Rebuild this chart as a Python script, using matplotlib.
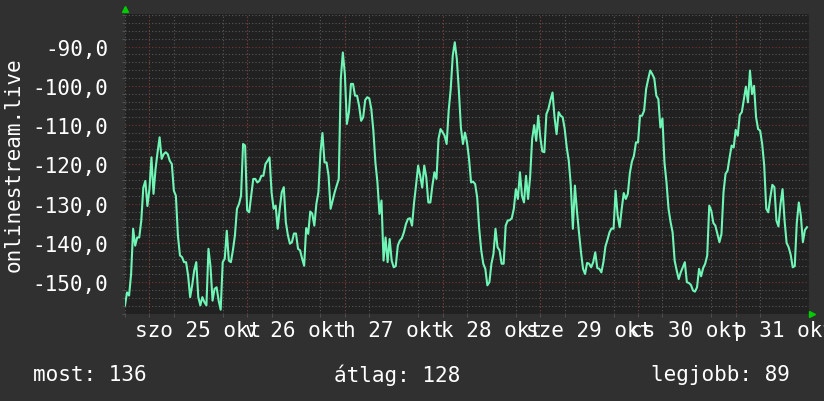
import matplotlib.pyplot as plt
import matplotlib.dates as mdates
from matplotlib.ticker import MultipleLocator, FuncFormatter
import pandas as pd

# Jelszint 30 percenként, 2025-10-24 18:00-tól (7 nap)
start = "2025-10-24 18:00"
signal = [
    # okt 24 18:00 - okt 25 17:30
    -155.9, -152.6, -153.4, -147.9, -136.4, -140.7, -138.6, -138.6, -134.3, -125.9,
    -124.2, -130.6, -126.3, -118.2, -127.5, -121.2, -116.9, -113.1, -118.6, -117.4,
    -116.9, -117.4, -119.1, -119.9, -126.7, -128.0, -138.2, -143.2, -143.6, -144.9,
    -144.9, -148.3, -153.8, -150.8, -147.0, -144.9, -153.8, -155.9, -153.8, -155.1,
    -155.9, -141.5, -146.0, -154.7, -151.7, -151.3, -154.7, -157.0,
    # okt 25 18:00 -
    -144.9, -144.0, -136.9, -144.5, -144.9, -141.9, -138.1, -131.3, -130.1, -128.0,
    -114.8, -115.2, -131.7, -132.2, -128.0, -123.7, -123.7, -124.6, -124.2, -122.9,
    -122.9, -119.9, -119.1, -118.2, -127.1, -131.3, -130.5, -136.4, -131.3, -127.1,
    -125.8, -134.7, -138.0, -140.2, -139.8, -137.6, -137.6, -141.5, -141.9, -144.0,
    -145.8, -136.2, -137.7, -132.0, -132.6, -135.6, -130.1, -127.1,
    # okt 26 18:00 -
    -117.0, -112.0, -119.5, -119.5, -122.9, -131.3, -129.2, -127.1, -125.4, -123.7,
    -98.3, -91.5, -97.0, -109.7, -106.7, -99.5, -99.5, -102.5, -102.5, -105.1,
    -108.9, -108.0, -103.6, -102.9, -103.2, -105.9, -111.4, -119.5, -124.6, -132.6,
    -129.2, -144.5, -138.6, -144.9, -139.0, -144.5, -146.2, -145.9, -140.7, -139.4,
    -138.8, -137.3, -135.2, -133.9, -133.7, -135.6, -129.7, -125.2,
    # okt 27 18:00 -
    -120.3, -122.9, -125.9, -120.3, -123.3, -129.7, -129.7, -125.4, -122.0, -123.7,
    -113.5, -111.0, -111.8, -112.7, -114.8, -106.3, -100.8, -92.3, -88.9, -93.2,
    -101.2, -110.6, -114.8, -111.9, -114.4, -118.6, -124.6, -124.4, -125.0, -128.4,
    -136.4, -141.9, -145.3, -146.6, -150.8, -150.0, -145.3, -142.8, -136.4, -141.1,
    -141.9, -145.3, -145.3, -135.6, -134.3, -134.2, -133.7, -131.3,
    # okt 28 18:00 -
    -126.3, -128.8, -122.0, -128.0, -129.7, -122.9, -128.8, -123.3, -113.5, -110.0,
    -114.0, -107.6, -113.1, -116.7, -116.9, -107.2, -105.9, -103.6, -101.7, -108.0,
    -112.3, -106.7, -107.6, -108.0, -111.0, -115.7, -119.1, -125.4, -136.4, -125.4,
    -131.8, -137.3, -142.4, -146.6, -147.9, -145.1, -145.3, -146.2, -144.9, -142.4,
    -146.4, -146.6, -147.5, -144.9, -140.9, -139.2, -137.3, -136.3,
    # okt 29 18:00 -
    -136.4, -126.7, -133.0, -136.0, -131.3, -127.3, -128.8, -127.5, -122.2, -119.3,
    -117.8, -114.4, -114.4, -107.6, -107.6, -106.3, -100.8, -98.3, -96.1, -97.0,
    -98.1, -102.5, -103.4, -110.6, -108.3, -119.5, -124.6, -131.3, -134.7, -137.3,
    -144.5, -147.0, -149.2, -147.5, -146.2, -144.9, -150.0, -150.2, -150.7, -152.1,
    -152.4, -151.3, -146.6, -148.5, -146.4, -145.3, -143.2, -130.5,
    # okt 30 18:00 -
    -131.8, -134.9, -135.6, -137.7, -139.8, -137.7, -127.1, -122.4, -121.6, -118.2,
    -115.2, -115.7, -111.2, -112.7, -107.4, -106.7, -103.4, -100.2, -104.2, -96.1,
    -102.1, -100.0, -108.0, -111.0, -111.4, -114.8, -120.3, -131.3, -132.2, -128.4,
    -125.2, -125.8, -134.3, -135.8, -130.1, -126.3, -134.3, -140.0, -141.1, -143.0,
    -146.2, -145.9, -134.9, -129.7, -133.1, -139.8, -136.7, -136.0,
]
day_labels = ["szo 25 okt", "v 26 okt", "h 27 okt", "k 28 okt",
              "sze 29 okt", "cs 30 okt", "p 31 okt"]
summary = ["most: 136", "átlag: 128", "legjobb: 89"]
y_label = "onlinestream.live"

plt.rcParams["font.family"] = "DejaVu Sans Mono"
fs = 15.1

times = pd.date_range(start, periods=len(signal), freq="30min")
t_end = times[0] + pd.Timedelta(days=7)
midnights = pd.date_range("2025-10-25", periods=7, freq="D")
noons = midnights + pd.Timedelta(hours=12)

fig = plt.figure(figsize=(8.24, 4.02), dpi=100, facecolor="#303030")
ax = fig.add_axes([125 / 824, 87 / 402, 684 / 824, 300 / 402])
ax.set_facecolor("#212121")

ax.plot(times, signal, color="#6ff5b5", lw=1.5, zorder=3)

ax.set_xlim(times[0], t_end)
ax.set_ylim(-158.1, -81.7)

# racs: szurke 6 ora / 2 egyseg, piros nap / 10 egyseg
ax.yaxis.set_major_locator(MultipleLocator(10))
ax.yaxis.set_minor_locator(MultipleLocator(2))
ax.yaxis.set_major_formatter(FuncFormatter(lambda v, p: f"{v:.1f}".replace(".", ",")))
ax.xaxis.set_minor_locator(mdates.HourLocator(byhour=[0, 6, 12, 18]))
ax.set_xticks(noons, day_labels)

dots = (0, (1, 2))
ax.grid(which="minor", color="#575757", lw=0.8, ls=dots)
ax.grid(which="major", axis="y", color="#7a3434", lw=0.8, ls=dots)
ax.grid(which="major", axis="x", visible=False)
for d in midnights:
    ax.axvline(d, color="#7a3434", lw=0.8, ls=dots, zorder=1)
ax.set_axisbelow(True)

for s in ax.spines.values():
    s.set_visible(False)
ax.tick_params(which="major", length=0, colors="white", labelsize=fs)
ax.tick_params(which="major", axis="y", pad=12)
ax.tick_params(which="major", axis="x", pad=4)
ax.tick_params(which="minor", length=2, color="#575757")

# zold nyilak a tengelyek vegen
ax.plot([0], [1 + 5 / 300], marker="^", ms=4, color="#00cc00",
        transform=ax.transAxes, clip_on=False)
ax.plot([1 + 3 / 684], [0], marker=">", ms=4, color="#00cc00",
        transform=ax.transAxes, clip_on=False)

fig.text(14 / 824, 1 - 165 / 402, y_label, rotation=90, color="white",
         fontsize=fs, ha="center", va="center")
for txt, x in zip(summary, [33, 334, 651]):
    fig.text(x / 824, 1 - 375 / 402, txt, color="white", fontsize=fs,
             ha="left", va="center")

fig.savefig("out.png", dpi=100, facecolor=fig.get_facecolor())
